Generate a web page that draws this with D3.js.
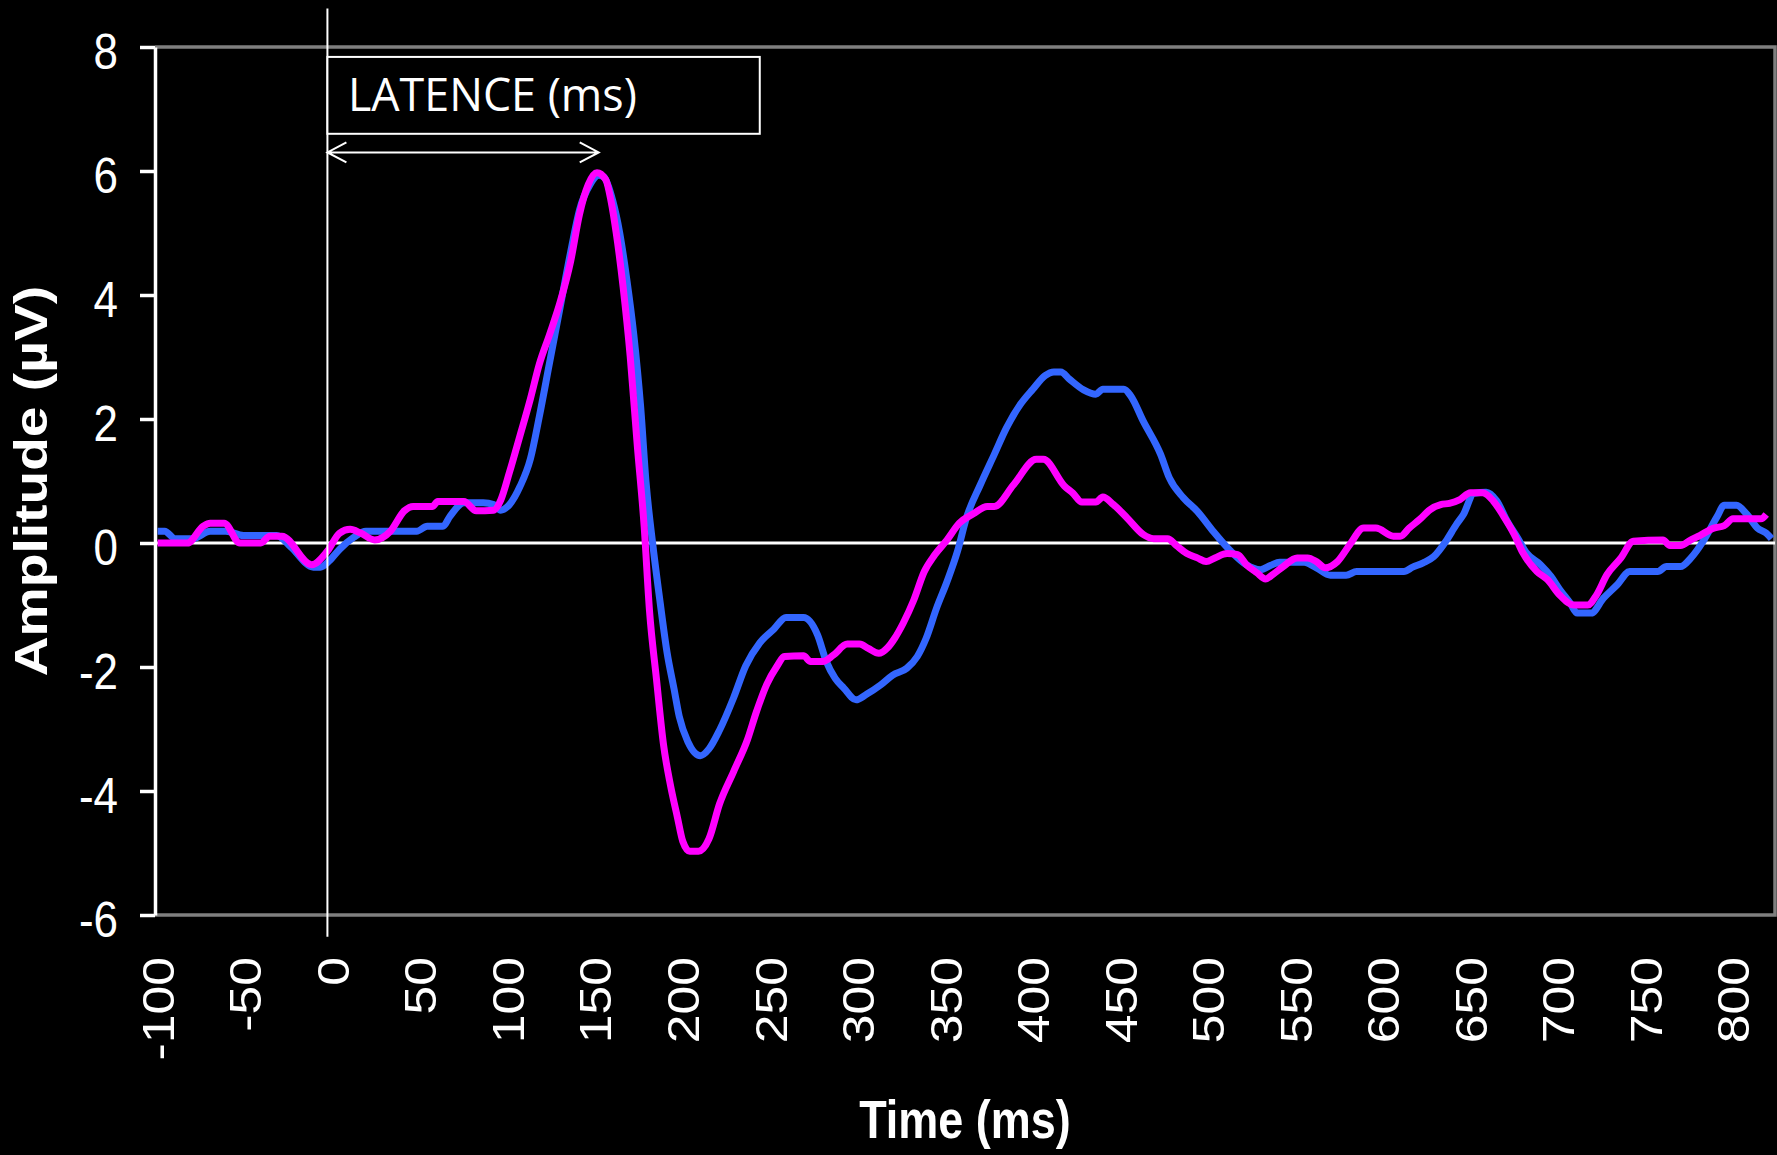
<!DOCTYPE html>
<html>
<head>
<meta charset="utf-8">
<script src="https://cdn.jsdelivr.net/npm/d3@7"></script>
<style>
  html, body { margin: 0; padding: 0; background: #000; }
  svg { display: block; }
</style>
</head>
<body>
<div id="chart"></div>
<script>
// ERP traces (time in ms, amplitude in µV)
var timeBlue = [-100, -96, -90, -80, -70, -61, -51, -32, -24, -11, -7, -2, 4, 12, 19, 48, 54, 63, 67, 75, 86, 92, 96, 101,
  107, 113, 118, 124, 130, 136, 141, 147, 152, 155, 160, 164, 168, 172, 176, 179, 183, 187, 191, 195, 198, 203, 210, 215,
  221, 229, 236, 244, 252, 259, 269, 277, 282, 287, 292, 299, 305, 313, 320, 328, 334, 339, 345, 351, 357, 362, 370, 378,
  385, 393, 400, 407, 412, 416, 421, 429, 436, 440, 452, 456, 463, 473, 478, 486, 494, 503, 513, 522, 530, 536, 541, 555,
  562, 570, 579, 585, 612, 617, 623, 629, 636, 642, 646, 652, 659, 665, 671, 677, 682, 690, 696, 701, 707, 711, 719, 726,
  734, 741, 757, 762, 770, 776, 783, 791, 795, 802, 808, 814, 819, 822];
var ampBlue = [0.19, 0.19, 0.07, 0.07, 0.19, 0.19, 0.12, 0.12, -0.06, -0.39, -0.39, -0.29, -0.1, 0.09, 0.19, 0.19, 0.27, 0.27, 0.43, 0.65, 0.65, 0.62, 0.53, 0.62,
  0.91, 1.36, 2.03, 2.92, 3.81, 4.70, 5.37, 5.78, 5.93, 5.9, 5.52, 5.0, 4.26, 3.37, 2.18, 0.99, -0.05, -0.94, -1.76, -2.35, -2.8, -3.21, -3.43, -3.32,
  -3.02, -2.5, -1.98, -1.61, -1.39, -1.2, -1.2, -1.48, -1.91, -2.18, -2.34, -2.53, -2.44, -2.29, -2.13, -2.02, -1.83, -1.54, -1.05, -0.62, -0.13, 0.40, 0.94, 1.43,
  1.86, 2.24, 2.48, 2.70, 2.76, 2.76, 2.64, 2.47, 2.40, 2.48, 2.48, 2.37, 1.97, 1.43, 1.05, 0.73, 0.51, 0.19, -0.13, -0.35, -0.43, -0.36, -0.31, -0.31,
  -0.40, -0.52, -0.52, -0.46, -0.46, -0.39, -0.32, -0.22, 0.03, 0.30, 0.46, 0.80, 0.82, 0.68, 0.35, 0.08, -0.16, -0.35, -0.54, -0.75, -0.97, -1.13, -1.13, -0.89,
  -0.67, -0.46, -0.46, -0.38, -0.38, -0.24, 0.03, 0.43, 0.61, 0.61, 0.46, 0.24, 0.16, 0.07];

var timeMagenta = [-100, -83, -74, -70, -62, -53, -41, -36, -29, -12, -3, 4, 10, 16, 24, 33, 41, 46, 57, 60, 75, 82, 92, 96,
  101, 107, 113, 118, 124, 130, 136, 141, 146, 151, 156, 159, 162, 166, 170, 174, 178, 181, 185, 189, 193, 197, 200, 204,
  209, 215, 221, 229, 237, 242, 248, 254, 258, 269, 273, 280, 286, 294, 301, 306, 312, 317, 321, 326, 332, 338, 344, 351,
  358, 366, 374, 378, 389, 402, 406, 418, 423, 428, 436, 440, 446, 454, 463, 469, 477, 482, 488, 494, 499, 504, 511, 517,
  522, 528, 533, 537, 543, 551, 557, 562, 567, 574, 581, 589, 596, 606, 610, 615, 621, 627, 633, 638, 644, 650, 657, 663,
  669, 675, 680, 688, 694, 701, 709, 717, 722, 728, 736, 743, 760, 764, 770, 776, 781, 789, 795, 800, 816, 819];
var ampMagenta = [0, 0, 0.27, 0.32, 0.32, 0, 0, 0.11, 0.11, -0.35, -0.13, 0.16, 0.22, 0.16, 0.05, 0.19, 0.52, 0.59, 0.59, 0.67, 0.67, 0.52, 0.53, 0.69,
  1.14, 1.73, 2.33, 2.88, 3.37, 3.89, 4.55, 5.30, 5.78, 5.97, 5.86, 5.52, 5.0, 4.11, 3.0, 1.58, 0.25, -1.09, -2.2, -3.25, -3.91, -4.43, -4.81, -4.97,
  -4.97, -4.77, -4.21, -3.69, -3.17, -2.73, -2.28, -1.98, -1.83, -1.82, -1.91, -1.91, -1.81, -1.63, -1.63, -1.70, -1.78, -1.69, -1.54, -1.29, -0.92, -0.46, -0.19, 0.05,
  0.32, 0.47, 0.59, 0.59, 0.94, 1.35, 1.35, 0.92, 0.80, 0.66, 0.66, 0.74, 0.62, 0.40, 0.14, 0.07, 0.07, -0.04, -0.17, -0.24, -0.30, -0.24, -0.17, -0.19,
  -0.35, -0.48, -0.58, -0.51, -0.38, -0.24, -0.24, -0.30, -0.40, -0.30, -0.03, 0.24, 0.24, 0.11, 0.11, 0.24, 0.38, 0.54, 0.62, 0.64, 0.70, 0.81, 0.81, 0.68,
  0.43, 0.14, -0.16, -0.46, -0.59, -0.84, -1.0, -1.0, -0.84, -0.51, -0.24, 0.03, 0.05, -0.04, -0.04, 0.05, 0.12, 0.24, 0.28, 0.39, 0.39, 0.46];

var xTicks = [-100, -50, 0, 50, 100, 150, 200, 250, 300, 350, 400, 450, 500, 550, 600, 650, 700, 750, 800];
var yTicks = [-6, -4, -2, 0, 2, 4, 6, 8];

// the original picture is stretched vertically, so text is too
var stretch = 1.15;
var plain = function(d) { return String(d); };   // keep the plain hyphen minus

var W = 1777, H = 1155;
var svg = d3.select("#chart")
  .append("svg")
    .attr("width", W)
    .attr("height", H)
    .style("background", "#000");

var x = d3.scaleLinear().domain([-101.5, 824]).range([155, 1775]);
var y = d3.scaleLinear().domain([-6, 8]).range([915, 47]);

// plot frame: grey top / right / bottom
svg.append("path")
  .attr("d", "M" + x.range()[0] + "," + y(8) + "H" + x.range()[1] + "V" + y(-6) + "H" + x.range()[0])
  .attr("fill", "none")
  .attr("stroke", "#7f7f7f")
  .attr("stroke-width", 3.5);

// zero line
svg.append("line")
  .attr("x1", x.range()[0]).attr("x2", x.range()[1])
  .attr("y1", y(0)).attr("y2", y(0))
  .attr("stroke", "#fff")
  .attr("stroke-width", 3);

// Y axis
var yAxis = svg.append("g")
  .attr("transform", "translate(" + x.range()[0] + ",0)")
  .call(d3.axisLeft(y).tickValues(yTicks).tickSize(15).tickSizeOuter(0).tickPadding(22).tickFormat(plain));
yAxis.select(".domain").attr("stroke", "#fff").attr("stroke-width", 3.5);
yAxis.selectAll(".tick line").attr("stroke", "#fff").attr("stroke-width", 3.5);
yAxis.selectAll(".tick text")
  .attr("fill", "#fff")
  .attr("font-family", "'Liberation Sans', Arial, sans-serif")
  .attr("font-size", 44)
  .attr("dy", "0.42em")
  .attr("transform", "scale(1," + stretch + ")");

// X axis (labels only, rotated)
var xAxis = svg.append("g")
  .attr("transform", "translate(0," + y(-6) + ")")
  .call(d3.axisBottom(x).tickValues(xTicks).tickSize(0).tickFormat(plain));
xAxis.select(".domain").remove();
xAxis.selectAll(".tick text")
  .attr("fill", "#fff")
  .attr("font-family", "'Liberation Sans', Arial, sans-serif")
  .attr("font-size", 45)
  .attr("text-anchor", "end")
  .attr("x", 0)
  .attr("y", 0)
  .attr("dy", "0.35em")
  .attr("transform", "translate(0,42) rotate(-90) scale(" + stretch + ",1)");

// axis titles
svg.append("text")
  .attr("transform", "translate(47," + (y(8) + y(-6)) / 2 + ") rotate(-90) scale(1.2,1)")
  .attr("text-anchor", "middle")
  .attr("fill", "#fff")
  .attr("font-family", "'Liberation Sans', Arial, sans-serif")
  .attr("font-weight", "bold")
  .attr("font-size", 46)
  .text("Amplitude (µV)");

svg.append("text")
  .attr("transform", "translate(" + (x.range()[0] + x.range()[1]) / 2 + ",1138) scale(1,1.2)")
  .attr("text-anchor", "middle")
  .attr("fill", "#fff")
  .attr("font-family", "'Liberation Sans', Arial, sans-serif")
  .attr("font-weight", "bold")
  .attr("font-size", 45)
  .text("Time (ms)");

// traces
var line = d3.line()
  .x(function(d) { return x(d[0]); })
  .y(function(d) { return y(d[1]); })
  .curve(d3.curveMonotoneX);

var blue = timeBlue.map(function(t, i) { return [t, ampBlue[i]]; });
var magenta = timeMagenta.map(function(t, i) { return [t, ampMagenta[i]]; });

svg.append("path")
  .datum(blue)
  .attr("d", line)
  .attr("fill", "none")
  .attr("stroke", "#3366ff")
  .attr("stroke-width", 7)
  .attr("stroke-linejoin", "round");

svg.append("path")
  .datum(magenta)
  .attr("d", line)
  .attr("fill", "none")
  .attr("stroke", "#ff00ff")
  .attr("stroke-width", 7)
  .attr("stroke-linejoin", "round");

// latency annotation
var x0 = x(-3);
svg.append("line")
  .attr("x1", x0).attr("x2", x0)
  .attr("y1", y(8.62)).attr("y2", y(-6.35))
  .attr("stroke", "#fff")
  .attr("stroke-width", 2);

svg.append("rect")
  .attr("x", x0)
  .attr("y", y(7.84))
  .attr("width", x(244) - x0)
  .attr("height", y(6.6) - y(7.84))
  .attr("fill", "#000")
  .attr("stroke", "#fff")
  .attr("stroke-width", 2);

svg.append("text")
  .attr("transform", "translate(" + x(8.7) + "," + y(6.97) + ") scale(1," + stretch + ")")
  .attr("fill", "#fff")
  .attr("font-family", "'Open Sans', 'Noto Sans', sans-serif")
  .attr("font-size", 40)
  .attr("textLength", 289)
  .attr("lengthAdjust", "spacingAndGlyphs")
  .text("LATENCE (ms)");

var ay = y(6.3), ax1 = x(152);
svg.append("path")
  .attr("d", "M" + x0 + "," + ay + "H" + ax1 +
             "M" + (x0 + 19) + "," + (ay - 10) + "L" + x0 + "," + ay + "L" + (x0 + 19) + "," + (ay + 10) +
             "M" + (ax1 - 19) + "," + (ay - 10) + "L" + ax1 + "," + ay + "L" + (ax1 - 19) + "," + (ay + 10))
  .attr("fill", "none")
  .attr("stroke", "#fff")
  .attr("stroke-width", 2);
</script>
</body>
</html>
